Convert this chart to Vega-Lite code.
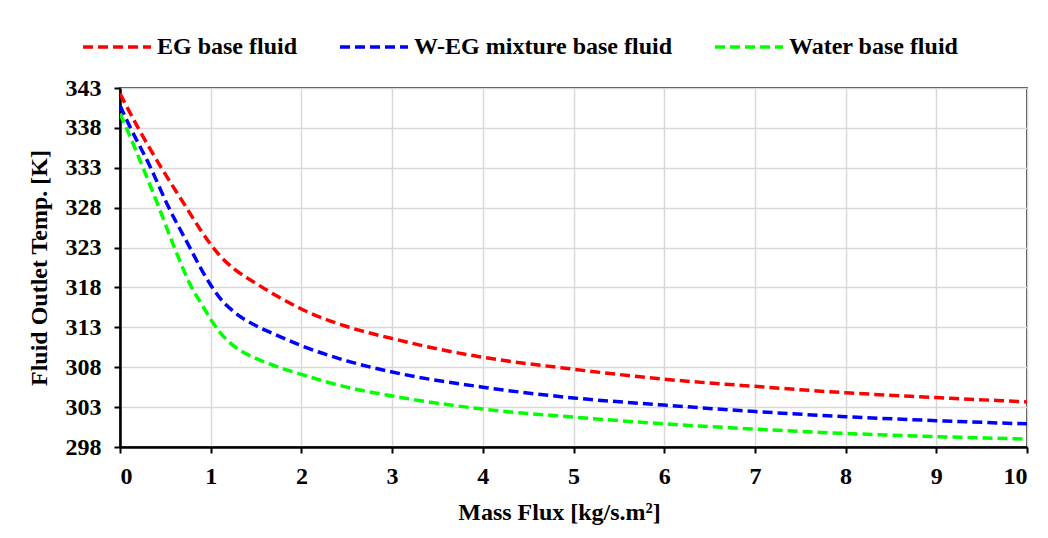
{
  "$schema": "https://vega.github.io/schema/vega-lite/v6.json",
  "width": 907,
  "height": 359,
  "autosize": {"type": "none"},
  "padding": {"left": 120, "top": 88, "right": 21, "bottom": 91},
  "background": "white",
  "data": {
    "values": [
      {"x": 0, "T": 342.3, "fluid": "EG base fluid"},
      {"x": 0.2, "T": 338.0, "fluid": "EG base fluid"},
      {"x": 0.456, "T": 333.0, "fluid": "EG base fluid"},
      {"x": 0.733, "T": 328.0, "fluid": "EG base fluid"},
      {"x": 0.9, "T": 325.0, "fluid": "EG base fluid"},
      {"x": 1.0, "T": 323.4, "fluid": "EG base fluid"},
      {"x": 1.1, "T": 322.0, "fluid": "EG base fluid"},
      {"x": 1.25, "T": 320.4, "fluid": "EG base fluid"},
      {"x": 1.5, "T": 318.5, "fluid": "EG base fluid"},
      {"x": 1.75, "T": 316.8, "fluid": "EG base fluid"},
      {"x": 2, "T": 315.3, "fluid": "EG base fluid"},
      {"x": 2.5, "T": 313.1, "fluid": "EG base fluid"},
      {"x": 3, "T": 311.6, "fluid": "EG base fluid"},
      {"x": 3.5, "T": 310.3, "fluid": "EG base fluid"},
      {"x": 4, "T": 309.25, "fluid": "EG base fluid"},
      {"x": 5, "T": 307.75, "fluid": "EG base fluid"},
      {"x": 6, "T": 306.5, "fluid": "EG base fluid"},
      {"x": 7, "T": 305.6, "fluid": "EG base fluid"},
      {"x": 8, "T": 304.8, "fluid": "EG base fluid"},
      {"x": 9, "T": 304.2, "fluid": "EG base fluid"},
      {"x": 10, "T": 303.65, "fluid": "EG base fluid"},
      {"x": 0, "T": 340.8, "fluid": "W-EG mixture base fluid"},
      {"x": 0.107, "T": 338.2, "fluid": "W-EG mixture base fluid"},
      {"x": 0.33, "T": 333.2, "fluid": "W-EG mixture base fluid"},
      {"x": 0.53, "T": 328.2, "fluid": "W-EG mixture base fluid"},
      {"x": 0.77, "T": 323.0, "fluid": "W-EG mixture base fluid"},
      {"x": 0.9, "T": 320.2, "fluid": "W-EG mixture base fluid"},
      {"x": 1.0, "T": 318.3, "fluid": "W-EG mixture base fluid"},
      {"x": 1.1, "T": 316.7, "fluid": "W-EG mixture base fluid"},
      {"x": 1.25, "T": 315.0, "fluid": "W-EG mixture base fluid"},
      {"x": 1.5, "T": 313.2, "fluid": "W-EG mixture base fluid"},
      {"x": 1.75, "T": 311.9, "fluid": "W-EG mixture base fluid"},
      {"x": 2, "T": 310.7, "fluid": "W-EG mixture base fluid"},
      {"x": 2.5, "T": 308.8, "fluid": "W-EG mixture base fluid"},
      {"x": 3, "T": 307.4, "fluid": "W-EG mixture base fluid"},
      {"x": 4, "T": 305.5, "fluid": "W-EG mixture base fluid"},
      {"x": 5, "T": 304.15, "fluid": "W-EG mixture base fluid"},
      {"x": 6, "T": 303.25, "fluid": "W-EG mixture base fluid"},
      {"x": 7, "T": 302.45, "fluid": "W-EG mixture base fluid"},
      {"x": 8, "T": 301.8, "fluid": "W-EG mixture base fluid"},
      {"x": 9, "T": 301.3, "fluid": "W-EG mixture base fluid"},
      {"x": 10, "T": 300.9, "fluid": "W-EG mixture base fluid"},
      {"x": 0, "T": 339.8, "fluid": "Water base fluid"},
      {"x": 0.07, "T": 338.0, "fluid": "Water base fluid"},
      {"x": 0.254, "T": 333.0, "fluid": "Water base fluid"},
      {"x": 0.43, "T": 328.0, "fluid": "Water base fluid"},
      {"x": 0.6, "T": 323.0, "fluid": "Water base fluid"},
      {"x": 0.79, "T": 318.0, "fluid": "Water base fluid"},
      {"x": 0.9, "T": 315.9, "fluid": "Water base fluid"},
      {"x": 1.0, "T": 314.0, "fluid": "Water base fluid"},
      {"x": 1.1, "T": 312.4, "fluid": "Water base fluid"},
      {"x": 1.25, "T": 310.7, "fluid": "Water base fluid"},
      {"x": 1.5, "T": 309.1, "fluid": "Water base fluid"},
      {"x": 1.75, "T": 308.0, "fluid": "Water base fluid"},
      {"x": 2, "T": 307.1, "fluid": "Water base fluid"},
      {"x": 2.5, "T": 305.5, "fluid": "Water base fluid"},
      {"x": 3, "T": 304.4, "fluid": "Water base fluid"},
      {"x": 4, "T": 302.75, "fluid": "Water base fluid"},
      {"x": 5, "T": 301.75, "fluid": "Water base fluid"},
      {"x": 6, "T": 300.9, "fluid": "Water base fluid"},
      {"x": 7, "T": 300.25, "fluid": "Water base fluid"},
      {"x": 8, "T": 299.7, "fluid": "Water base fluid"},
      {"x": 9, "T": 299.3, "fluid": "Water base fluid"},
      {"x": 10, "T": 299.0, "fluid": "Water base fluid"}
    ]
  },
  "mark": {"type": "line", "interpolate": "monotone", "strokeWidth": 3.5, "strokeDash": [10, 5], "clip": true},
  "encoding": {
    "x": {
      "field": "x", "type": "quantitative",
      "scale": {"domain": [0, 10], "nice": false, "zero": false},
      "axis": {"values": [0,1,2,3,4,5,6,7,8,9,10], "title": "Mass Flux [kg/s.m²]", "titlePadding": 12, "labelPadding": 11, "titleX": 439}
    },
    "y": {
      "field": "T", "type": "quantitative",
      "scale": {"domain": [298, 343], "nice": false, "zero": false},
      "axis": {"values": [298,303,308,313,318,323,328,333,338,343], "title": "Fluid Outlet Temp. [K]", "titlePadding": 14, "labelPadding": 13}
    },
    "color": {
      "field": "fluid", "type": "nominal",
      "scale": {"domain": ["EG base fluid", "W-EG mixture base fluid", "Water base fluid"], "range": ["#ff0000", "#0000ff", "#00ff00"]},
      "legend": {"orient": "none", "legendX": -39, "legendY": -77, "direction": "horizontal", "title": null}
    }
  },
  "config": {
    "view": {"stroke": "black", "strokeWidth": 1.5},
    "axis": {
      "grid": true, "gridColor": "#d9d9d9", "gridWidth": 1.5,
      "domainColor": "black", "domainWidth": 2.5,
      "tickColor": "black", "tickWidth": 2, "tickSize": 6,
      "labelFont": "Liberation Serif", "labelFontSize": 24, "labelFontWeight": "bold", "labelColor": "black",
      "titleFont": "Liberation Serif", "titleFontSize": 24, "titleFontWeight": "bold", "titleColor": "black"
    },
    "legend": {
      "symbolType": "stroke", "symbolSize": 4624, "symbolStrokeWidth": 3.5, "symbolDash": [10, 5],
      "labelFont": "Liberation Serif", "labelFontSize": 24, "labelFontWeight": "bold", "labelColor": "black",
      "labelOffset": 4, "columnPadding": 35, "labelLimit": 0
    }
  }
}
